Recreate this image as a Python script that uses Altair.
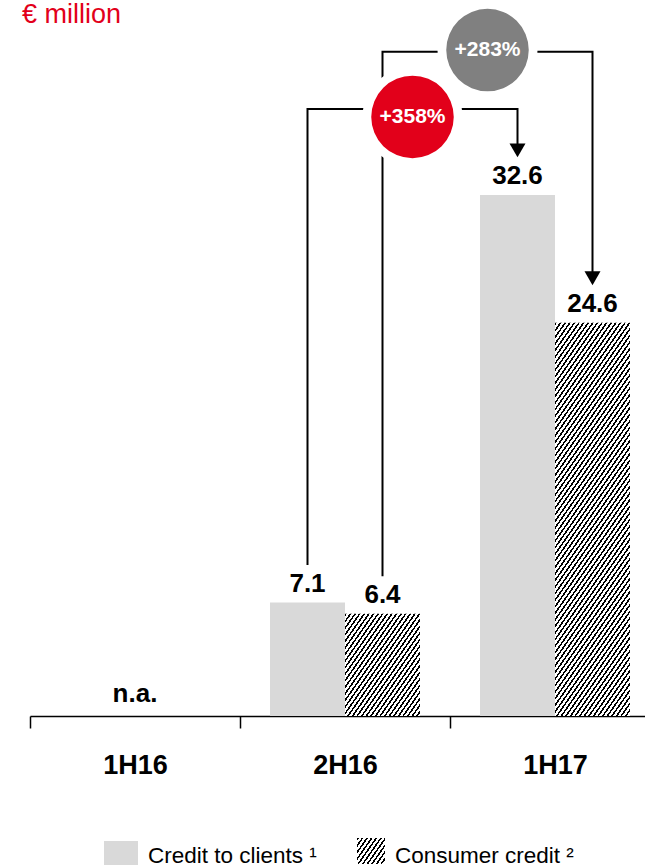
import altair as alt
import pandas as pd
import numpy as np

# ---------------- data ----------------
periods = ["1H16", "2H16", "1H17"]
series_names = ["Credit to clients", "Consumer credit"]
credit_to_clients = [None, 7.1, 32.6]
consumer_credit = [None, 6.4, 24.6]
na_periods = ["1H16"]
na_text = "n.a."

growth_labels = ["+358%", "+283%"]
growth_series = ["Credit to clients", "Consumer credit"]
growth_from = ["2H16", "2H16"]
growth_to = ["1H17", "1H17"]
growth_line_level = [37.98, 41.56]
growth_circle_level = [37.48, 41.67]
growth_colors = ["#E2001A", "#808080"]

unit_label = "€ million"
legend_labels = ["Credit to clients ¹", "Consumer credit ²"]

# ---------------- style / layout ----------------
FONT = "Liberation Sans"
RED = "#E2001A"
BAR_GRAY = "#D9D9D9"
W, H = 615, 716
YMAX = 44.8
PX = H / YMAX
BAR_W = 75.0
GAP = 2.35

rows = []
for p, c, k in zip(periods, credit_to_clients, consumer_credit):
    if c is not None:
        rows.append({"period": p, "series": series_names[0], "value": c, "label": f"{c:.1f}"})
    if k is not None:
        rows.append({"period": p, "series": series_names[1], "value": k, "label": f"{k:.1f}"})
bars = pd.DataFrame(rows)

def lookup(p, s):
    return float(bars[(bars.period == p) & (bars.series == s)].value.iloc[0])

path_rows, arrow_rows, circ_rows = [], [], []
for i, (lab, s, a, b, lvl, cl, col) in enumerate(zip(growth_labels, growth_series, growth_from,
                                                       growth_to, growth_line_level,
                                                       growth_circle_level, growth_colors)):
    va, vb = lookup(a, s), lookup(b, s)
    pts = [(a, va + GAP), (a, lvl), (b, lvl), (b, vb + GAP + 0.45)]
    for j, (p, y) in enumerate(pts):
        path_rows.append({"cid": i, "step": j, "period": p, "series": s, "y": y})
    arrow_rows.append({"period": b, "series": s, "y": vb + GAP})
    circ_rows.append({"src": a, "dst": b, "series": s, "y": cl, "label": lab, "color": col})
paths = pd.DataFrame(path_rows)
arrows = pd.DataFrame(arrow_rows)
circles = pd.DataFrame(circ_rows)


def hatch(w, h, period=4.6, dark=0.42, m=0.7):
    """Diagonal '/' hatching as a hard-stop linear gradient (bbox units)."""
    L = w + m * h
    c = L / (w * w + m * m * h * h)
    n = int(np.ceil(L / period))
    stops = []
    for k in range(n):
        s0 = min(k * period / L, 1.0)
        s1 = min((k + dark) * period / L, 1.0)
        s2 = min((k + 1) * period / L, 1.0)
        stops += [{"offset": round(s0, 6), "color": "#000000"},
                  {"offset": round(s1, 6), "color": "#000000"},
                  {"offset": round(s1, 6), "color": "#ffffff"},
                  {"offset": round(s2, 6), "color": "#ffffff"}]
    return alt.LinearGradient(gradient="linear", stops=stops,
                              x1=0, y1=0, x2=round(w * c, 6), y2=round(m * h * c, 6))


x_enc = alt.X("period:N", scale=alt.Scale(domain=periods, range=[0, 630],
                                          paddingInner=0, paddingOuter=0),
              axis=alt.Axis(title=None, labelAngle=0, labelFont=FONT, labelFontSize=27,
                            labelFontWeight="bold", labelColor="black", tickBand="extent",
                            tickSize=12, tickColor="black", tickWidth=1.5,
                            domainColor="black", domainWidth=1.5, labelPadding=24,
                            grid=False))
xo_enc = alt.XOffset("series:N", scale=alt.Scale(domain=series_names, paddingInner=0,
                                                 paddingOuter=0.4))
y_scale = alt.Scale(domain=[0, YMAX], nice=False, zero=True)

credit_bars = alt.Chart(bars).transform_filter(
    alt.datum.series == series_names[0]
).mark_bar(color=BAR_GRAY).encode(
    x=x_enc, xOffset=xo_enc,
    y=alt.Y("value:Q", scale=y_scale, axis=None),
)

hatch_layers = []
for p, k in zip(periods, consumer_credit):
    if k is None:
        continue
    hatch_layers.append(
        alt.Chart(bars).transform_filter(
            (alt.datum.series == series_names[1]) & (alt.datum.period == p)
        ).mark_bar(fill=hatch(BAR_W, k * PX)).encode(
            x=x_enc, xOffset=xo_enc,
            y=alt.Y("value:Q", scale=y_scale, axis=None),
        )
    )

value_text = alt.Chart(bars).mark_text(
    font=FONT, fontSize=26, fontWeight="bold", color="black", dy=-11, baseline="alphabetic"
).encode(x=x_enc, xOffset=xo_enc, y=alt.Y("value:Q", scale=y_scale, axis=None), text="label:N")

na_df = pd.DataFrame({"period": na_periods, "value": [0] * len(na_periods), "label": [na_text] * len(na_periods)})
na_layer = alt.Chart(na_df).mark_text(
    font=FONT, fontSize=26, fontWeight="bold", color="black", dy=-14, baseline="alphabetic"
).encode(x=x_enc, y=alt.Y("value:Q", scale=y_scale, axis=None), text="label:N")

lines = alt.Chart(paths).mark_line(color="black", strokeWidth=2, strokeCap="butt").encode(
    x=x_enc, xOffset=xo_enc, y=alt.Y("y:Q", scale=y_scale, axis=None),
    detail="cid:N", order=alt.Order("step:Q"),
)

arrow_layer = alt.Chart(arrows).mark_point(
    shape="triangle-down", filled=True, color="black", size=256, opacity=1, yOffset=-7
).encode(x=x_enc, xOffset=xo_enc, y=alt.Y("y:Q", scale=y_scale, axis=None))

mid_expr = ("(scale('x', datum.src) + scale('x', datum.dst)) / 2 + "
            "scale('xOffset', datum.series) + bandwidth('xOffset') / 2")

rings = alt.Chart(circles).mark_point(
    shape="circle", filled=True, color="white", size=100 * 100, opacity=1
).encode(x=alt.value({"expr": mid_expr}), y=alt.Y("y:Q", scale=y_scale, axis=None))

discs = alt.Chart(circles).mark_point(
    shape="circle", filled=True, size=82.5 * 82.5, opacity=1
).encode(x=alt.value({"expr": mid_expr}), y=alt.Y("y:Q", scale=y_scale, axis=None),
         fill=alt.Fill("color:N", scale=None))

disc_text = alt.Chart(circles).mark_text(
    font=FONT, fontSize=21, fontWeight="bold", color="white", baseline="middle", align="center"
).encode(x=alt.value({"expr": mid_expr}), y=alt.Y("y:Q", scale=y_scale, axis=None), text="label:N")

one = pd.DataFrame({"t": [unit_label]})
title_layer = alt.Chart(one).mark_text(
    font=FONT, fontSize=27, color=RED, align="left", baseline="alphabetic"
).encode(x=alt.value(-8), y=alt.value(23), text="t:N")

leg_sw1 = alt.Chart(one).mark_rect(color=BAR_GRAY).encode(
    x=alt.value(74), x2=alt.value(108), y=alt.value(841), y2=alt.value(880))
leg_sw2 = alt.Chart(one).mark_rect(fill=hatch(28, 26, period=4.6)).encode(
    x=alt.value(327), x2=alt.value(355), y=alt.value(838), y2=alt.value(864))
leg_t1 = alt.Chart(pd.DataFrame({"t": [legend_labels[0]]})).mark_text(
    font=FONT, fontSize=22.5, color="black", align="left", baseline="alphabetic"
).encode(x=alt.value(118), y=alt.value(863), text="t:N")
leg_t2 = alt.Chart(pd.DataFrame({"t": [legend_labels[1]]})).mark_text(
    font=FONT, fontSize=22.5, color="black", align="left", baseline="alphabetic"
).encode(x=alt.value(365), y=alt.value(863), text="t:N")

chart = alt.layer(
    credit_bars, *hatch_layers, value_text, na_layer, lines, arrow_layer,
    rings, discs, disc_text, title_layer, leg_sw1, leg_sw2, leg_t1, leg_t2
).properties(
    width=W, height=H,
    background="white",
    autosize=alt.AutoSizeParams(type="none"),
    padding={"left": 30, "top": 0, "right": 0, "bottom": 149},
).configure_view(stroke=None, strokeWidth=0)

chart.save("out.html", embed_options={"renderer": "svg", "actions": False})
